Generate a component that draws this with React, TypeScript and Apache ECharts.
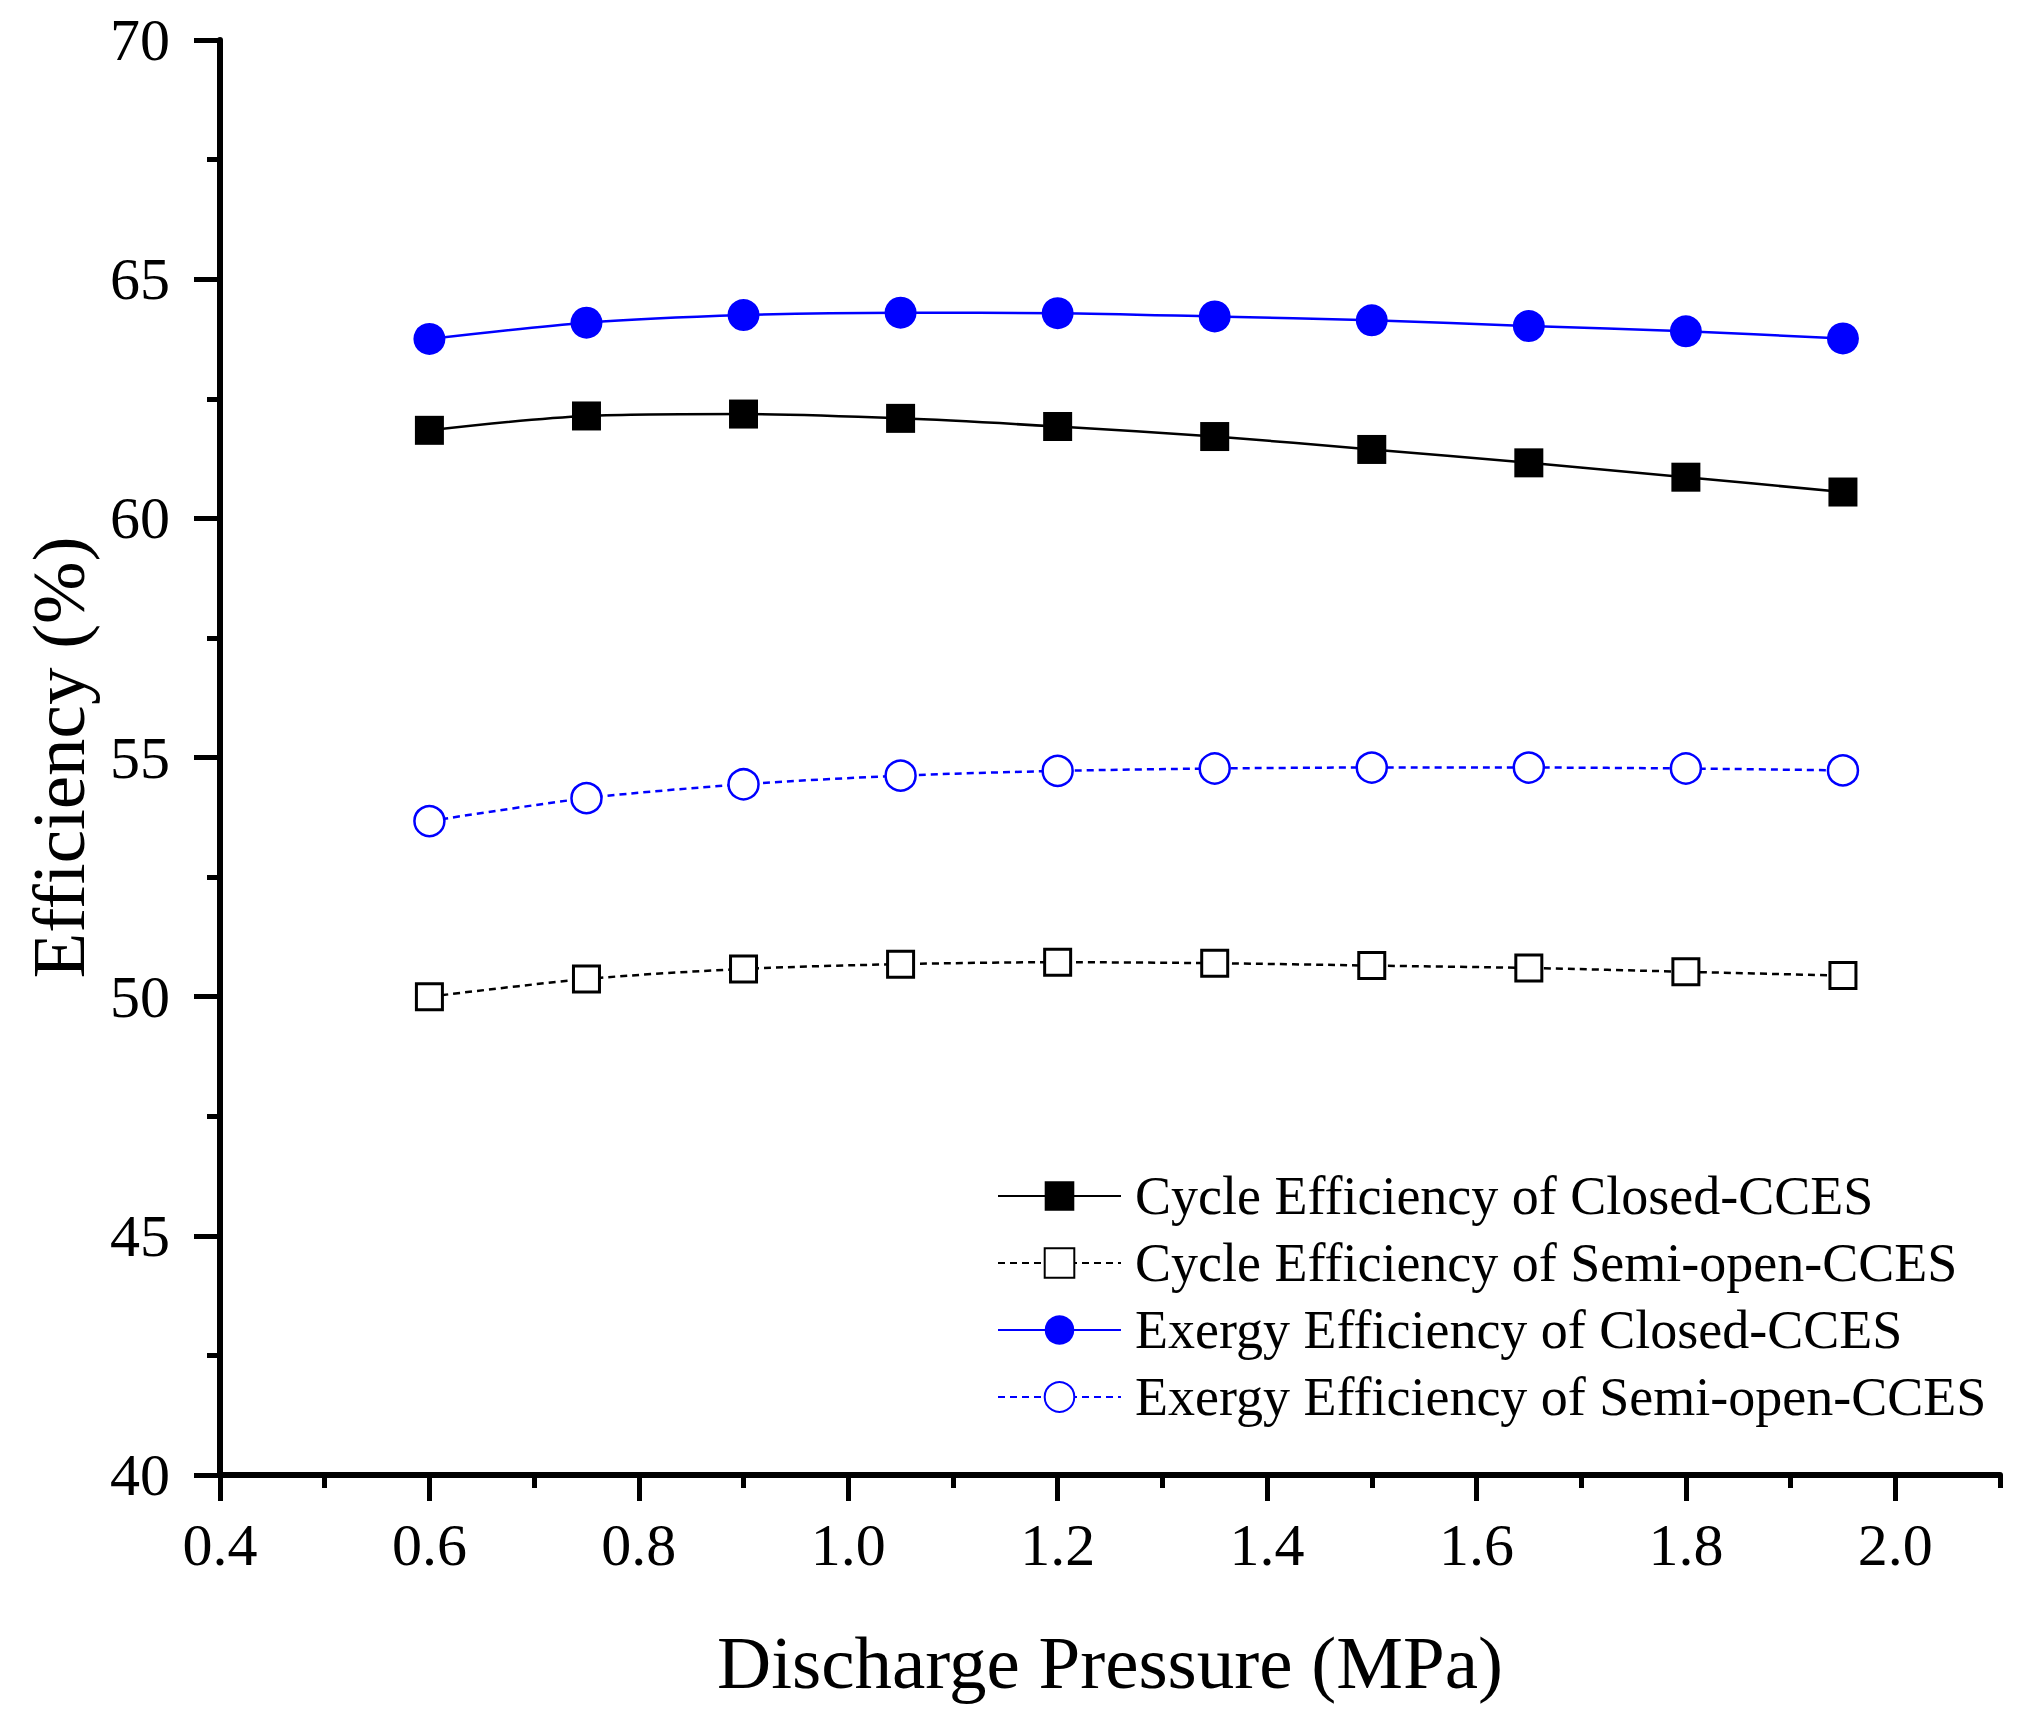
import React, { useEffect, useRef } from "react";
import * as echarts from "echarts";

const pressure = [0.6, 0.75, 0.9, 1.05, 1.2, 1.35, 1.5, 1.65, 1.8, 1.95];
const cycleClosed = [61.84, 62.14, 62.18, 62.09, 61.92, 61.71, 61.44, 61.16, 60.86, 60.55];
const cycleSemi = [50.0, 50.37, 50.58, 50.68, 50.72, 50.7, 50.65, 50.6, 50.52, 50.44];
const exergyClosed = [63.75, 64.09, 64.25, 64.3, 64.29, 64.22, 64.14, 64.02, 63.91, 63.76];
const exergySemi = [53.67, 54.15, 54.44, 54.62, 54.72, 54.77, 54.79, 54.79, 54.77, 54.73];

const xMajorTicks = [0.4, 0.6, 0.8, 1.0, 1.2, 1.4, 1.6, 1.8, 2.0];
const xMinorTicks = [0.5, 0.7, 0.9, 1.1, 1.3, 1.5, 1.7, 1.9, 2.1];

const seriesNames = [
  "Cycle Efficiency of Closed-CCES",
  "Cycle Efficiency of Semi-open-CCES",
  "Exergy Efficiency of Closed-CCES",
  "Exergy Efficiency of Semi-open-CCES",
];

const FONT = "'Liberation Serif', 'Times New Roman', serif";

function pairs(ys: number[]) {
  return pressure.map((x, i) => [x, ys[i]]);
}

export default function App() {
  const ref = useRef<HTMLDivElement>(null);
  useEffect(() => {
    if (!ref.current) return;
    const chart = echarts.init(ref.current, null, { renderer: "svg" });
    const axisLineStyle = { color: "#000", width: 6 };
    const tickStyle = { color: "#000", width: 5 };
    const labelStyle = { fontFamily: FONT, fontSize: 60, color: "#000" };
    const nameStyle = { fontFamily: FONT, fontSize: 75, color: "#000" };
    chart.setOption({
      animation: false,
      backgroundColor: "#fff",
      grid: { left: 220, right: 25, top: 40, bottom: 245 },
      legend: {
        orient: "vertical",
        left: 992,
        top: 1164,
        itemWidth: 123,
        itemHeight: 37,
        itemGap: 13,
        data: seriesNames,
        textStyle: { fontFamily: FONT, fontSize: 54, color: "#000", padding: [0, 0, 0, 9] },
      },
      xAxis: [
        {
          type: "value",
          min: 0.4,
          max: 2.1,
          position: "bottom",
          name: "Discharge Pressure (MPa)",
          nameLocation: "middle",
          nameGap: 150,
          nameTextStyle: nameStyle,
          axisLine: { show: true, onZero: false, lineStyle: axisLineStyle },
          axisTick: { show: true, inside: false, length: 26, lineStyle: tickStyle, customValues: xMajorTicks },
          axisLabel: {
            ...labelStyle,
            margin: 40,
            customValues: xMajorTicks,
            formatter: (v: number) => v.toFixed(1),
          },
          splitLine: { show: false },
        },
        {
          type: "value",
          min: 0.4,
          max: 2.1,
          position: "bottom",
          axisLine: { show: false },
          axisTick: { show: true, inside: false, length: 13, lineStyle: tickStyle, customValues: xMinorTicks },
          axisLabel: { show: false },
          splitLine: { show: false },
        },
      ],
      yAxis: {
        type: "value",
        min: 40,
        max: 70,
        interval: 5,
        name: "Efficiency (%)",
        nameLocation: "middle",
        nameGap: 124,
        nameRotate: 90,
        nameTextStyle: nameStyle,
        axisLine: { show: true, lineStyle: axisLineStyle },
        axisTick: { show: true, inside: false, length: 26, lineStyle: tickStyle },
        minorTick: { show: true, splitNumber: 2, length: 13, lineStyle: tickStyle },
        axisLabel: { ...labelStyle, margin: 50 },
        splitLine: { show: false },
      },
      series: [
        {
          name: seriesNames[0],
          type: "line",
          xAxisIndex: 0,
          data: pairs(cycleClosed),
          smooth: 0.3,
          symbol: "rect",
          symbolSize: 29,
          lineStyle: { color: "#000", width: 2.5, type: "solid" },
          itemStyle: { color: "#000" },
        },
        {
          name: seriesNames[1],
          type: "line",
          xAxisIndex: 0,
          data: pairs(cycleSemi),
          smooth: 0.3,
          symbol: "rect",
          symbolSize: 26,
          lineStyle: { color: "#000", width: 2.5, type: [7, 5] },
          itemStyle: { color: "#fff", borderColor: "#000", borderWidth: 3 },
        },
        {
          name: seriesNames[2],
          type: "line",
          xAxisIndex: 0,
          data: pairs(exergyClosed),
          smooth: 0.3,
          symbol: "circle",
          symbolSize: 32,
          lineStyle: { color: "#0000ff", width: 2.5, type: "solid" },
          itemStyle: { color: "#0000ff" },
        },
        {
          name: seriesNames[3],
          type: "line",
          xAxisIndex: 0,
          data: pairs(exergySemi),
          smooth: 0.3,
          symbol: "circle",
          symbolSize: 30,
          lineStyle: { color: "#0000ff", width: 2.5, type: [7, 5] },
          itemStyle: { color: "#fff", borderColor: "#0000ff", borderWidth: 2.5 },
        },
      ],
    });
    return () => chart.dispose();
  }, []);
  return (
    <div
      ref={ref}
      style={{ position: "absolute", left: 0, top: 0, width: 2025, height: 1720, background: "#fff" }}
    />
  );
}
